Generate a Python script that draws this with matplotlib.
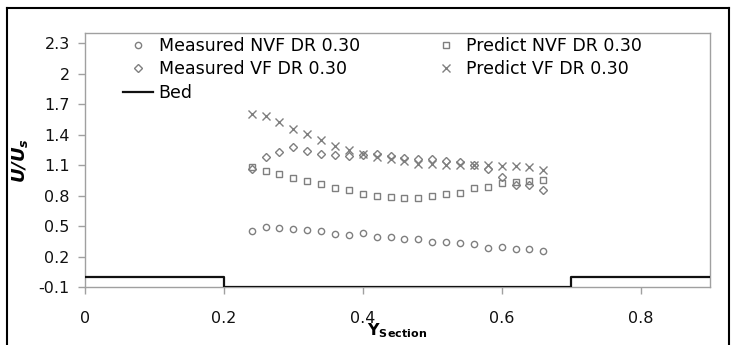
import matplotlib
matplotlib.use("Agg")
import matplotlib.pyplot as plt
from matplotlib.lines import Line2D

plt.rcParams['font.family'] = ['DejaVu Sans']

x = [0.24, 0.26, 0.28, 0.30, 0.32, 0.34, 0.36, 0.38, 0.40, 0.42, 0.44,
     0.46, 0.48, 0.50, 0.52, 0.54, 0.56, 0.58, 0.60, 0.62, 0.64, 0.66]
measured_nvf = [0.45, 0.49, 0.48, 0.47, 0.46, 0.45, 0.42, 0.41, 0.43, 0.39, 0.39,
                0.37, 0.37, 0.34, 0.34, 0.33, 0.32, 0.28, 0.29, 0.27, 0.27, 0.25]
measured_vf = [1.06, 1.18, 1.23, 1.28, 1.24, 1.21, 1.20, 1.19, 1.20, 1.21, 1.19,
               1.17, 1.16, 1.16, 1.14, 1.13, 1.10, 1.06, 0.98, 0.90, 0.90, 0.85]
predict_nvf = [1.08, 1.04, 1.01, 0.97, 0.94, 0.91, 0.87, 0.85, 0.82, 0.80, 0.79,
               0.78, 0.78, 0.80, 0.82, 0.83, 0.87, 0.88, 0.92, 0.93, 0.94, 0.95]
predict_vf = [1.60, 1.58, 1.52, 1.46, 1.41, 1.35, 1.29, 1.25, 1.21, 1.18, 1.16,
              1.14, 1.11, 1.11, 1.10, 1.10, 1.10, 1.10, 1.09, 1.09, 1.08, 1.05]
bed_x = [0.0, 0.2, 0.2, 0.7, 0.7, 0.9]
bed_y = [0.0, 0.0, -0.1, -0.1, 0.0, 0.0]

xticks = [0, 0.2, 0.4, 0.6, 0.8]
xticklabels = ['0', '0.2', '0.4', '0.6', '0.8']
yticks = [-0.1, 0.2, 0.5, 0.8, 1.1, 1.4, 1.7, 2.0, 2.3]
yticklabels = ['-0.1', '0.2', '0.5', '0.8', '1.1', '1.4', '1.7', '2', '2.3']

gray = '#7f7f7f'
fig = plt.figure(figsize=(7.33, 3.45), dpi=100)
ax = fig.add_axes([85/733, 1-287/345, (710-85)/733, (287-33)/345])

ms = 4.5
ax.plot(x, measured_nvf, linestyle='none', marker='o', ms=ms, mfc='none', mec=gray, mew=1.0,
        label='Measured NVF DR 0.30')
ax.plot(x, predict_nvf, linestyle='none', marker='s', ms=ms, mfc='none', mec=gray, mew=1.0,
        label='Predict NVF DR 0.30')
ax.plot(x, measured_vf, linestyle='none', marker='D', ms=ms*0.85, mfc='none', mec=gray, mew=1.0,
        label='Measured VF DR 0.30')
ax.plot(x, predict_vf, linestyle='none', marker='x', ms=ms+1, mec=gray, mew=1.0,
        label='Predict VF DR 0.30')
ax.plot(bed_x, bed_y, color='#111111', lw=1.6, label='Bed', zorder=5)

ax.set_xlim(0, 0.9)
ax.set_ylim(-0.1, 2.4)
ax.set_xticks(xticks)
ax.set_xticklabels(xticklabels)
ax.set_yticks(yticks)
ax.set_yticklabels(yticklabels)
ax.tick_params(axis='both', colors='#a0a0a0', labelcolor='#111111', labelsize=11.5,
               length=5, width=1)
ax.tick_params(axis='x', pad=12)
ax.tick_params(axis='y', pad=6)
for s in ax.spines.values():
    s.set_color('#a0a0a0')
    s.set_linewidth(1)

ax.set_ylabel(r'$\mathbfit{U/U_s}$', fontsize=13, labelpad=6)
ax.set_xlabel(r'$\mathbf{Y}_{\mathbf{Section}}$', fontsize=11.5, labelpad=-3)

handles, labels = ax.get_legend_handles_labels()
order = [0, 2, 4, 1, 3]
leg = ax.legend([handles[i] for i in order], [labels[i] for i in order], ncol=2,
                loc='upper left', bbox_to_anchor=(31/625, 1.012), frameon=False,
                fontsize=12.5, handlelength=1.75, handletextpad=0.3, columnspacing=4.1,
                labelspacing=0.32, borderaxespad=0)

# outer frame
fig.add_artist(Line2D([7/733, 7/733], [0, 1-8/345], transform=fig.transFigure, color='black', lw=1.5))
fig.add_artist(Line2D([7/733, 729/733], [1-8/345, 1-8/345], transform=fig.transFigure, color='black', lw=1.5))
fig.add_artist(Line2D([729/733, 729/733], [0, 1-8/345], transform=fig.transFigure, color='black', lw=1.5))

fig.savefig('out.png', dpi=100)
